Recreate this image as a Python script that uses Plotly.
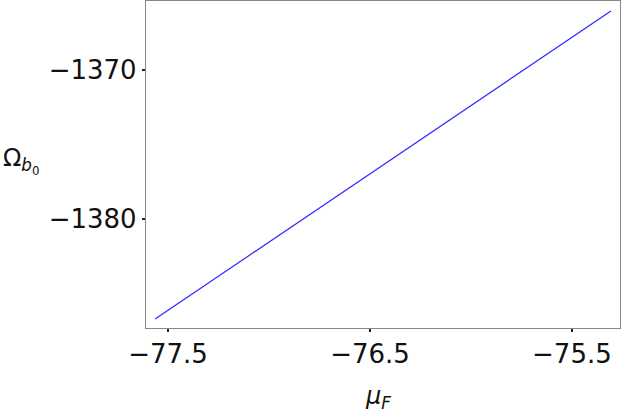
import plotly.graph_objects as go

mu_F = [-77.564, -75.307]
omega_b0 = [-1386.68, -1366.05]
x_ticks = [-77.5, -76.5, -75.5]
y_ticks = [-1380, -1370]

fig = go.Figure()
fig.add_trace(go.Scatter(x=mu_F, y=omega_b0, mode="lines",
                         line=dict(color="#2a2aff", width=1.2), showlegend=False))

font = dict(family="DejaVu Sans", size=26, color="#111")
fig.update_xaxes(range=[-77.609, -75.262], tickvals=x_ticks,
                 ticktext=["−77.5", "−76.5", "−75.5"], automargin=False,
                 showgrid=False, zeroline=False, showline=True, mirror=True,
                 linecolor="#888", linewidth=1.3, ticks="outside", ticklen=3,
                 tickwidth=2, tickcolor="#222", tickfont=font)
fig.update_yaxes(range=[-1387.28, -1365.38], tickvals=y_ticks,
                 ticktext=["−1380", "−1370"], automargin=False,
                 showgrid=False, zeroline=False, showline=True, mirror=True,
                 linecolor="#888", linewidth=1.3, ticks="outside", ticklen=3,
                 tickwidth=2, tickcolor="#222", tickfont=font)

fig.add_annotation(text="<i>μ<sub>F</sub></i>", xref="paper", yref="paper",
                   x=0.49, y=-0.212, yanchor="middle", xanchor="center", showarrow=False,
                   font=dict(family="DejaVu Sans", size=24, color="#111"))
fig.add_annotation(text="Ω<sub><i>b</i><sub>0</sub></sub>", xref="paper", yref="paper",
                   x=-0.305, y=0.51, xanchor="left", yanchor="middle", showarrow=False,
                   font=dict(family="DejaVu Sans", size=24, color="#111"))

fig.update_layout(width=623, height=415, margin=dict(l=146, r=3, t=1, b=87, autoexpand=False),
                  plot_bgcolor="white", paper_bgcolor="white")
fig.write_html("out.html", config={"displayModeBar": False},
               post_script="document.body.style.margin='0';")
